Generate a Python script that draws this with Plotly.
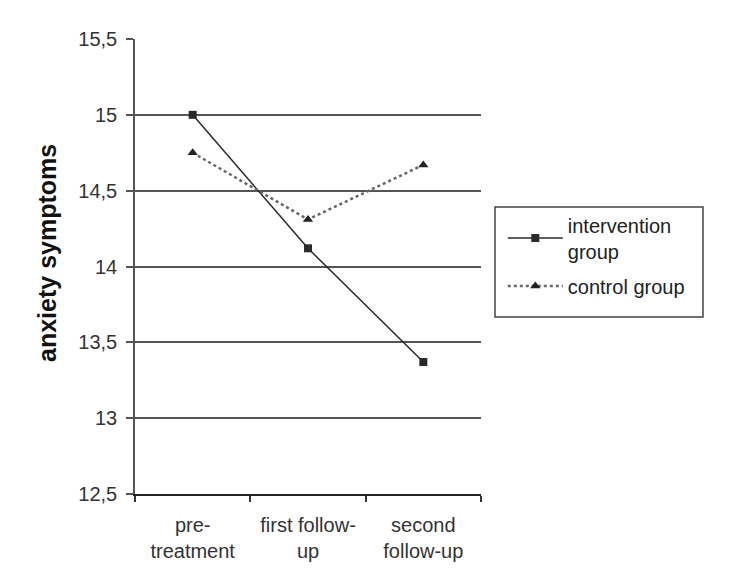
import plotly.graph_objects as go

categories = ["pre-<br>treatment", "first follow-<br>up", "second<br>follow-up"]
intervention = [15.0, 14.12, 13.37]
control = [14.75, 14.31, 14.67]
y_ticks = [12.5, 13, 13.5, 14, 14.5, 15, 15.5]
y_tick_text = ["12,5", "13", "13,5", "14", "14,5", "15", "15,5"]

fig = go.Figure()
fig.add_trace(go.Scatter(
    x=categories, y=intervention, name="intervention<br>group",
    legendgroup="g1",
    mode="lines+markers",
    line=dict(color="#2a2a2a", width=1.5),
    marker=dict(symbol="square", size=8, color="#2a2a2a"),
))
fig.add_trace(go.Scatter(
    x=categories, y=control, name="control group",
    legendgroup="g2",
    mode="lines+markers",
    line=dict(color="#666666", width=2.5, dash="dot"),
    marker=dict(symbol="triangle-up", size=9, color="#222222"),
))

font_family = "Liberation Sans, Arial, sans-serif"
# page body has an 8px margin, so the figure origin is at (8, 8)
fig.update_layout(
    width=742, height=578,
    margin=dict(l=127, r=269, t=31, b=92),
    paper_bgcolor="white", plot_bgcolor="white",
    font=dict(family=font_family, size=20, color="#333333"),
    showlegend=True,
    legend=dict(
        x=1.063, y=0.634, xanchor="left", yanchor="top",
        borderwidth=0, bgcolor="rgba(0,0,0,0)",
        font=dict(size=20, color="#222222"),
        itemwidth=55, tracegroupgap=6,
    ),
    xaxis=dict(
        type="category", range=[-0.5, 2.5],
        tickson="boundaries", ticks="outside", ticklen=6,
        tickcolor="#333333", tickwidth=1.5,
        showline=True, linecolor="#222222", linewidth=2,
        showgrid=False, zeroline=False,
        ticklabelstandoff=12,
        tickfont=dict(size=20, color="#333333"),
    ),
    yaxis=dict(
        range=[12.5, 15.5], tickvals=y_ticks, ticktext=y_tick_text,
        ticks="outside", ticklen=7, tickcolor="#555555", tickwidth=1.5,
        showline=True, linecolor="#555555", linewidth=1.5,
        showgrid=True, gridcolor="#555555", gridwidth=1.5,
        zeroline=False,
        ticklabelstandoff=5,
        tickfont=dict(size=20, color="#333333"),
    ),
    annotations=[dict(
        text="<b>anxiety symptoms</b>", textangle=-90,
        xref="paper", yref="paper", x=-0.254, y=0.53,
        xanchor="center", yanchor="middle", showarrow=False,
        font=dict(size=25, color="#111111"),
    )],
    shapes=[dict(
        type="rect", xref="paper", yref="paper",
        x0=1.0405, x1=1.6416, y0=0.389, y1=0.631,
        line=dict(color="#444444", width=1.5),
    )],
)

fig.write_html("out.html")
